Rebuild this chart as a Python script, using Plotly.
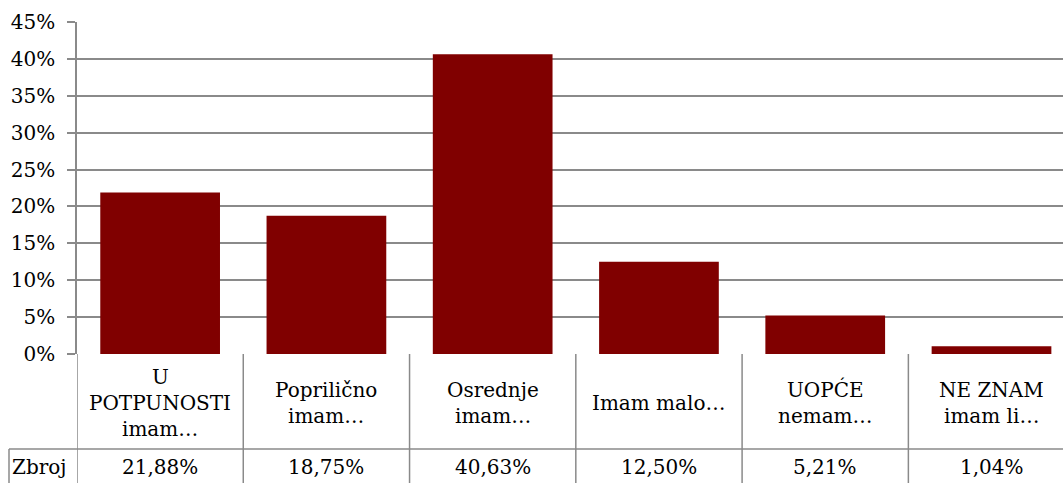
import plotly.graph_objects as go

categories = ["U\nPOTPUNOSTI\nimam…", "Poprilično\nimam…", "Osrednje\nimam…",
              "Imam malo…", "UOPĆE\nnemam…", "NE ZNAM\nimam li…"]
values = [0.2188, 0.1875, 0.4063, 0.1250, 0.0521, 0.0104]
row_label = "Zbroj"
tick_vals = [0, 0.05, 0.10, 0.15, 0.20, 0.25, 0.30, 0.35, 0.40, 0.45]
tick_text = ["0%", "5%", "10%", "15%", "20%", "25%", "30%", "35%", "40%", "45%"]

W, H = 1063, 483
ML, MR, MT, MB = 77, 0, 22, 129
plot_h = H - MT - MB
FONT = "DejaVu Serif"
FS = 20
GRID = "#8a8a8a"
BAR = "#800000"

x_idx = list(range(len(categories)))

fig = go.Figure()
fig.add_trace(go.Bar(x=x_idx, y=values, marker=dict(color=BAR, line=dict(width=0)),
                     width=0.72, hoverinfo="skip"))

row1_h = 95 / plot_h
line_gap = 26

annotations = []
shapes = []

for i, cat in enumerate(categories):
    lines = cat.split("\n")
    n = len(lines)
    for j, ln in enumerate(lines):
        annotations.append(dict(x=i, y=-row1_h / 2, xref="x", yref="paper", text=ln,
                                showarrow=False, xanchor="center", yanchor="middle",
                                yshift=((n - 1) / 2 - j) * line_gap - 1,
                                font=dict(family=FONT, size=FS, color="black")))
    txt = f"{values[i]*100:.2f}".replace(".", ",") + "%"
    annotations.append(dict(x=i, y=-row1_h, xref="x", yref="paper", text=txt,
                            showarrow=False, xanchor="center", yanchor="top", yshift=-4,
                            font=dict(family=FONT, size=FS, color="black")))

annotations.append(dict(x=0, y=-row1_h, xref="paper", yref="paper", text=row_label,
                        showarrow=False, xanchor="right", yanchor="top", xshift=-8, yshift=-4,
                        font=dict(family=FONT, size=FS, color="black")))

for i in range(len(categories) + 1):
    shapes.append(dict(type="line", xref="x", yref="paper", x0=i - 0.5, x1=i - 0.5,
                       y0=0, y1=-0.5, line=dict(color=GRID, width=1.5), layer="above"))
left_px = 9
left_paper = (left_px - ML) / (W - ML - MR)
shapes.append(dict(type="line", xref="paper", yref="paper", x0=left_paper, x1=1.1,
                   y0=-row1_h, y1=-row1_h, line=dict(color=GRID, width=1.5)))
shapes.append(dict(type="line", xref="paper", yref="paper", x0=left_paper, x1=left_paper,
                   y0=-row1_h, y1=-0.5, line=dict(color=GRID, width=1.5)))

fig.update_layout(
    width=W, height=H,
    margin=dict(l=ML, r=MR, t=MT, b=MB, pad=0, autoexpand=False),
    paper_bgcolor="white", plot_bgcolor="white",
    showlegend=False,
    font=dict(family=FONT, size=FS, color="black"),
    annotations=annotations, shapes=shapes,
    bargap=0.28,
    xaxis=dict(range=[-0.5, 5.43], showticklabels=False, ticks="", showgrid=False,
               zeroline=False, showline=False, fixedrange=True),
    yaxis=dict(range=[0, 0.45], tickvals=tick_vals, ticktext=tick_text,
               showgrid=True, gridcolor=GRID, gridwidth=1.5,
               ticks="outside", ticklen=8, tickcolor=GRID, tickwidth=1.5,
               showline=True, linecolor=GRID, linewidth=1.5,
               zeroline=False, ticklabelstandoff=8,
               tickfont=dict(family=FONT, size=FS, color="black"), fixedrange=True),
)

fig.write_html("out.html", config={"displayModeBar": False},
               post_script="document.body.style.margin='0';document.body.style.padding='0';")
